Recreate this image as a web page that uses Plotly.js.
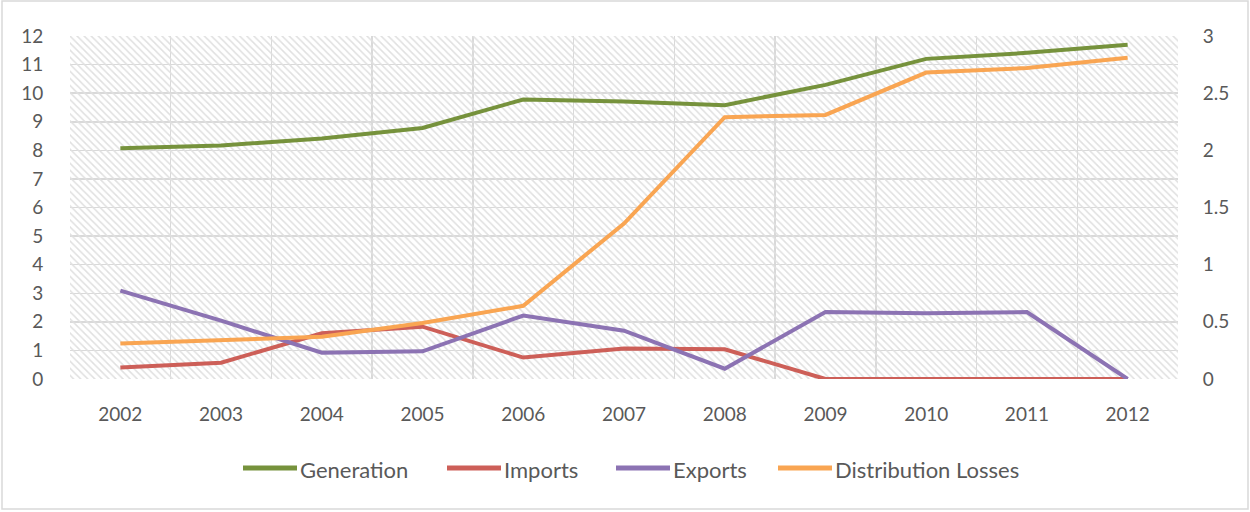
<!DOCTYPE html>
<html>
<head>
<meta charset="utf-8">
<script src="https://cdn.plot.ly/plotly-3.0.1.min.js"></script>
<style>
  html, body { margin: 0; padding: 0; background: #fff; }
  #chart { width: 1250px; height: 512px; }
</style>
</head>
<body>
<div id="chart"></div>
<script>
const years = [2002, 2003, 2004, 2005, 2006, 2007, 2008, 2009, 2010, 2011, 2012];
const generation = [8.07, 8.17, 8.41, 8.78, 9.78, 9.71, 9.58, 10.29, 11.2, 11.41, 11.69];
const imports = [0.4, 0.57, 1.6, 1.83, 0.75, 1.07, 1.04, 0, 0, 0, 0];
const exportsVals = [3.09, 2.04, 0.92, 0.97, 2.22, 1.69, 0.36, 2.34, 2.3, 2.34, 0];
const distributionLosses = [0.31, 0.34, 0.37, 0.49, 0.64, 1.36, 2.29, 2.31, 2.68, 2.72, 2.81];

const seriesNames = ['Generation', 'Imports', 'Exports', 'Distribution Losses'];
const seriesColors = ['#76923C', '#CD5F58', '#8C73B3', '#F9A552'];

const leftTicks = [0,1,2,3,4,5,6,7,8,9,10,11,12];
const rightTicks = [0, 0.5, 1, 1.5, 2, 2.5, 3];
const rightTickText = ['0', '0.5', '1', '1.5', '2', '2.5', '3'];

const xRange = [years[0] - 0.5, years[years.length - 1] + 0.5];
const yRange = [0, 12];
const y2Range = [0, 3];

const FONT = 'Lato, "Open Sans", sans-serif';
const TXT = '#595959';
const GRID = '#d9d9d9';

// plot-area geometry in pixels (for paper-coordinate conversion of decorations)
const W = 1250, H = 512;
const M = { l: 70, r: 72, t: 36, b: 133 };
const PW = W - M.l - M.r, PH = H - M.t - M.b;
const px2paperX = function (px) { return (px - M.l) / PW; };
const px2paperY = function (py) { return (H - M.b - py) / PH; };

const hatch = {
  x: [xRange[0], xRange[1], xRange[1], xRange[0], xRange[0]],
  y: [yRange[0], yRange[0], yRange[1], yRange[1], yRange[0]],
  type: 'scatter', mode: 'none', fill: 'toself',
  fillcolor: 'rgba(0,0,0,0)',
  fillpattern: { shape: '\\', fgcolor: '#e0e0e0', bgcolor: 'rgba(255,255,255,0)', size: 5, solidity: 0.3 },
  hoverinfo: 'skip', showlegend: false
};

const seriesValues = [generation, imports, exportsVals, distributionLosses];
const traces = [hatch].concat(seriesValues.map(function (vals, i) {
  return {
    x: years, y: vals, name: seriesNames[i], type: 'scatter', mode: 'lines',
    yaxis: i === 3 ? 'y2' : 'y',
    line: { color: seriesColors[i], width: 4 }, showlegend: false
  };
}));

// Excel-style legend built from shapes + annotations
const legendLineStarts = [243, 447, 616, 778];
const legendLineLen = 54, legendTextOffset = 56, legendY = 469;
const legendShapes = seriesNames.map(function (n, i) {
  return {
    type: 'line', xref: 'paper', yref: 'paper',
    x0: px2paperX(legendLineStarts[i]), x1: px2paperX(legendLineStarts[i] + legendLineLen),
    y0: px2paperY(legendY - 1), y1: px2paperY(legendY - 1),
    line: { color: seriesColors[i], width: 5 }
  };
});
const legendAnnotations = seriesNames.map(function (n, i) {
  return {
    text: n, xref: 'paper', yref: 'paper',
    x: px2paperX(legendLineStarts[i] + legendTextOffset), y: px2paperY(legendY),
    xanchor: 'left', yanchor: 'middle', showarrow: false, borderpad: 0,
    font: { family: FONT, size: 22, color: TXT }
  };
});

const layout = {
  width: W, height: H,
  margin: M,
  paper_bgcolor: '#ffffff', plot_bgcolor: '#ffffff',
  font: { family: FONT, size: 19, color: TXT },
  showlegend: false,
  xaxis: {
    type: 'linear', range: xRange, tickmode: 'array', tickvals: years,
    ticktext: years.map(String),
    showgrid: false, zeroline: false, showline: false,
    ticks: 'outside', ticklen: 18, tickcolor: 'rgba(0,0,0,0)',
    minor: { tickmode: 'linear', tick0: xRange[0], dtick: 1, showgrid: true, gridcolor: GRID, gridwidth: 1.5, ticks: '' },
    tickfont: { family: FONT, size: 19, color: TXT },
    fixedrange: true
  },
  yaxis: {
    range: yRange, tickmode: 'array', tickvals: leftTicks,
    showgrid: true, gridcolor: GRID, gridwidth: 1.5, zeroline: false, showline: false,
    ticks: 'outside', ticklen: 22, tickcolor: 'rgba(0,0,0,0)',
    tickfont: { family: FONT, size: 19, color: TXT },
    fixedrange: true
  },
  yaxis2: {
    overlaying: 'y', side: 'right', range: y2Range,
    tickmode: 'array', tickvals: rightTicks, ticktext: rightTickText,
    showgrid: false, zeroline: false, showline: false,
    ticks: 'outside', ticklen: 20, tickcolor: 'rgba(0,0,0,0)',
    tickfont: { family: FONT, size: 19, color: TXT },
    fixedrange: true
  },
  shapes: [
    { type: 'rect', xref: 'paper', yref: 'paper',
      x0: px2paperX(2), x1: px2paperX(1248),
      y0: px2paperY(509), y1: px2paperY(1),
      line: { color: '#d9d9d9', width: 1.5 }, fillcolor: 'rgba(0,0,0,0)', layer: 'below' }
  ].concat(legendShapes),
  annotations: legendAnnotations
};

Plotly.newPlot('chart', traces, layout, { displayModeBar: false, staticPlot: true });
</script>
</body>
</html>
